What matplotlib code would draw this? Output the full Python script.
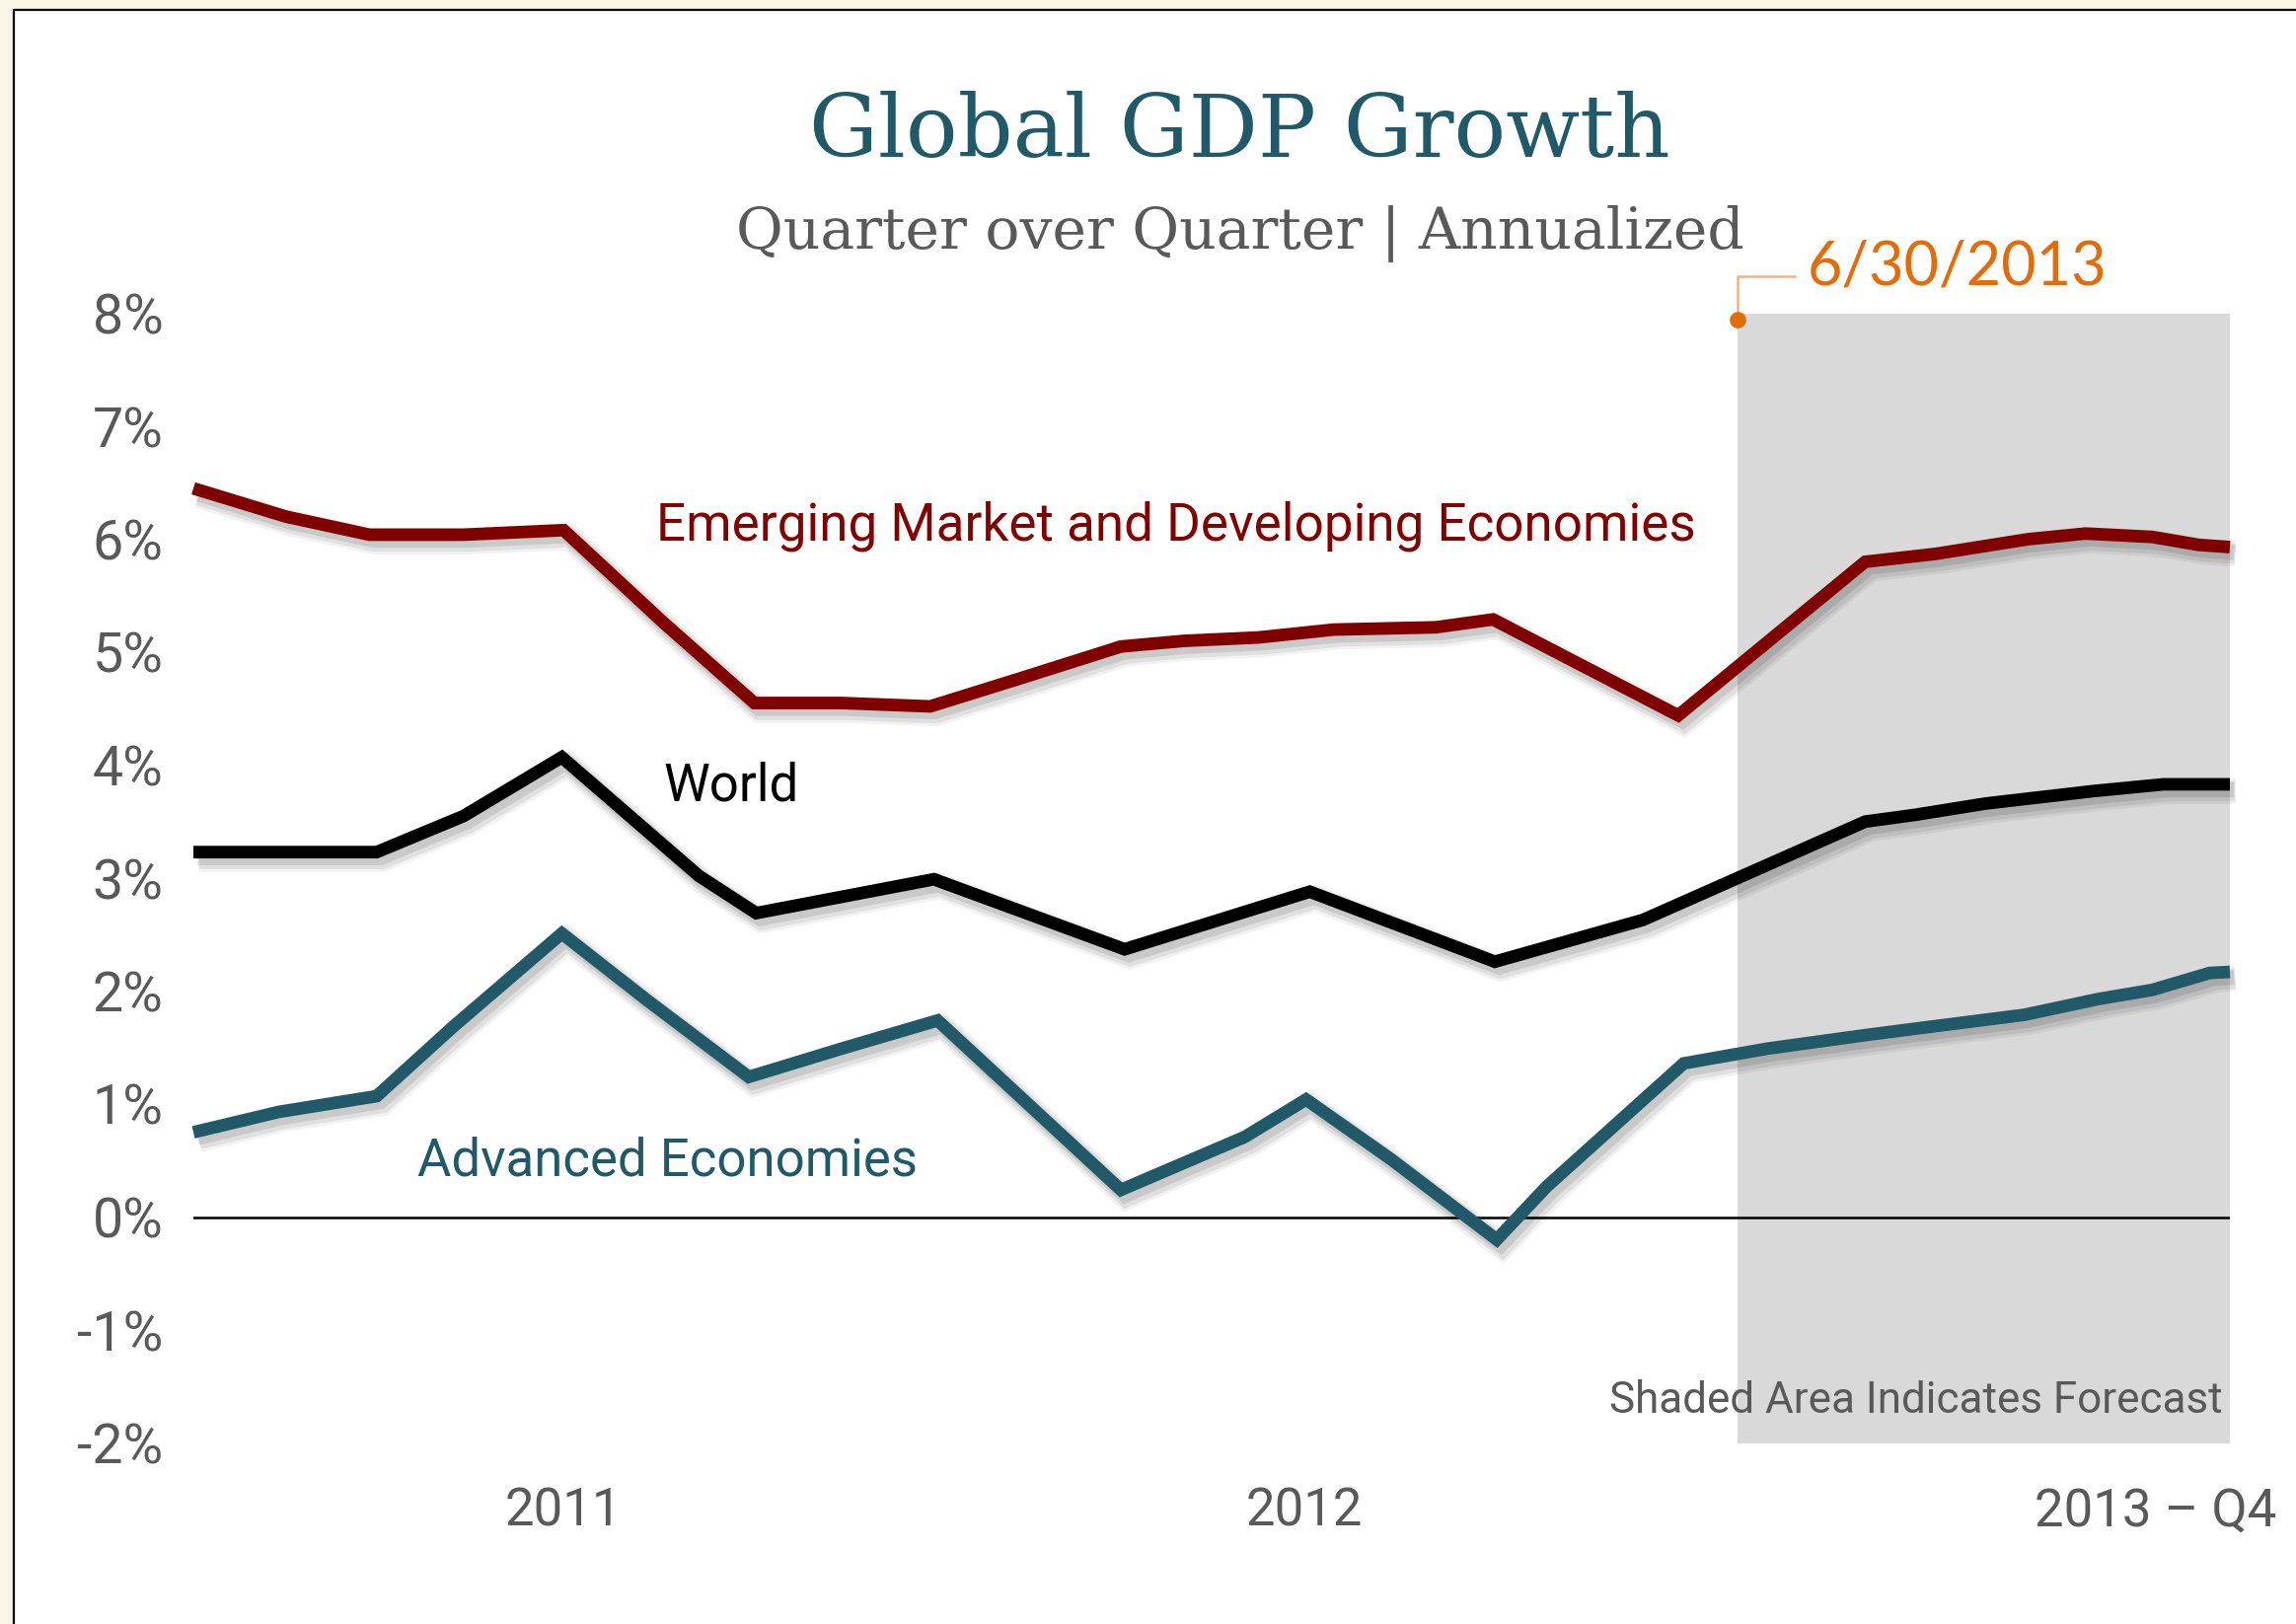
import matplotlib
matplotlib.use("Agg")
import matplotlib.pyplot as plt
from matplotlib import patheffects as pe
from matplotlib.patches import Rectangle
from matplotlib.transforms import blended_transform_factory

# Quarter index: 0 = 2011 Q1 ... 11 = 2013 Q4
emerging_x = [0, 0.5, 0.95, 1.46, 2.0, 2.54, 3.03, 3.5, 3.98, 4.47, 5.01, 5.35,
              5.75, 6.16, 6.71, 7.02, 8.02, 9.03, 9.41, 9.91, 10.22, 10.58, 10.83, 11]
emerging_y = [6.45, 6.20, 6.04, 6.04, 6.08, 5.26, 4.55, 4.55, 4.52, 4.77, 5.05, 5.10,
              5.13, 5.20, 5.22, 5.29, 4.44, 5.80, 5.87, 6.00, 6.05, 6.02, 5.95, 5.93]

world_x = [0, 0.99, 1.46, 1.99, 2.73, 3.04, 4.0, 5.03, 6.03, 7.03, 7.83, 9.03,
           9.30, 9.68, 10.26, 10.64, 11]
world_y = [3.23, 3.23, 3.55, 4.07, 3.02, 2.69, 2.99, 2.37, 2.88, 2.26, 2.63, 3.50,
           3.56, 3.66, 3.77, 3.83, 3.83]

advanced_x = [0, 0.46, 0.99, 1.40, 1.99, 2.45, 3.0, 3.5, 4.02, 5.01, 5.68, 6.01,
              6.47, 7.04, 7.31, 8.05, 8.5, 9.03, 9.41, 9.89, 10.29, 10.58, 10.89, 11]
advanced_y = [0.75, 0.93, 1.07, 1.68, 2.51, 1.92, 1.24, 1.49, 1.74, 0.24, 0.71, 1.04,
              0.51, -0.20, 0.27, 1.36, 1.49, 1.61, 1.69, 1.79, 1.93, 2.01, 2.16, 2.17]

forecast_start = 8.34
forecast_end = 11
x_min, x_max = 0, 11
y_min, y_max = -2, 8
y_ticks = list(range(-2, 9))
x_tick_pos = [2, 6, 10.6]
x_tick_labels = ["2011", "2012", "2013 \u2013 Q4"]

TEAL = "#215968"
RED = "#800000"
GREY = "#595959"
ORANGE = "#E36C09"

sans = ["Roboto", "DejaVu Sans"]
serif = ["DejaVu Serif"]

fig = plt.figure(figsize=(23.27, 16.46), dpi=100, facecolor="#f9f6e7")

# white card with a dark rule along its left and top edges
card = Rectangle((14 / 2327, -0.05), 1.2, 1 - 10 / 1646 + 0.05,
                 transform=fig.transFigure, facecolor="white",
                 edgecolor="black", linewidth=1.6, zorder=-10)
fig.add_artist(card)

ax = fig.add_axes([196 / 2327, 183.5 / 1646, 2064 / 2327, 1145 / 1646])
ax.set_facecolor("none")
ax.set_xlim(x_min, x_max)
ax.set_ylim(y_min, y_max)
for s in ax.spines.values():
    s.set_visible(False)

ax.set_yticks(y_ticks)
ax.set_yticklabels([f"{v}%" for v in y_ticks], family=sans, fontsize=40, color=GREY)
ax.tick_params(axis="y", length=0, pad=22)
ax.set_xticks([])

xt = blended_transform_factory(ax.transData, ax.transAxes)
for pos, lab in zip(x_tick_pos, x_tick_labels):
    ax.text(pos, -0.061, lab, transform=xt, ha="center", va="center",
            family=sans, fontsize=38, color=GREY)

# forecast shading
ax.axvspan(forecast_start, forecast_end, color="#d9d9d9", zorder=0, lw=0)

# zero line
ax.axhline(0, color="black", lw=1.8, zorder=1)


def shadow():
    return [
        pe.SimpleLineShadow(offset=(4, -5), shadow_color="black", alpha=0.05, linewidth=19),
        pe.SimpleLineShadow(offset=(4, -5), shadow_color="black", alpha=0.07, linewidth=15),
        pe.SimpleLineShadow(offset=(3, -4), shadow_color="black", alpha=0.10, linewidth=11),
        pe.Normal(),
    ]


for xs, ys, c in [(emerging_x, emerging_y, RED),
                  (world_x, world_y, "black"),
                  (advanced_x, advanced_y, TEAL)]:
    ax.plot(xs, ys, color=c, lw=9.2, solid_joinstyle="miter",
            solid_capstyle="butt", zorder=3, path_effects=shadow(), clip_on=False)

# series labels
ax.text(2.5, 6.12, "Emerging Market and Developing Economies", color=RED,
        family=sans, fontsize=38.2, ha="left", va="center")
ax.text(2.54, 3.81, "World", color="black", family=sans, fontsize=38,
        ha="left", va="center")
ax.text(1.21, 0.49, "Advanced Economies", color=TEAL, family=sans, fontsize=38,
        ha="left", va="center")
ax.text(10.96, -1.63, "Shaded Area Indicates Forecast", color=GREY, family=sans,
        fontsize=31.7, ha="right", va="center")

# forecast start marker
ax.plot([forecast_start, forecast_start, 8.65], [y_max, 8.33, 8.33],
        color="#f4b183", lw=1.8, clip_on=False, zorder=4)
ax.plot([forecast_start], [y_max - 0.06], "o", color=ORANGE, ms=11,
        clip_on=False, zorder=5)
ax.text(8.72, 8.41, "6/30/2013", color=ORANGE, family=["Lato", "DejaVu Sans"],
        fontsize=44, ha="left", va="center", clip_on=False)

# titles
fig.text(1256 / 2327, 1 - 159 / 1646, "Global GDP Growth", family=serif,
         fontsize=63, color=TEAL, ha="center", va="baseline")
fig.text(1257 / 2327, 1 - 252 / 1646, "Quarter over Quarter | Annualized",
         family=serif, fontsize=42, color=GREY, ha="center", va="baseline")

fig.savefig("out.png", dpi=100, facecolor=fig.get_facecolor())
